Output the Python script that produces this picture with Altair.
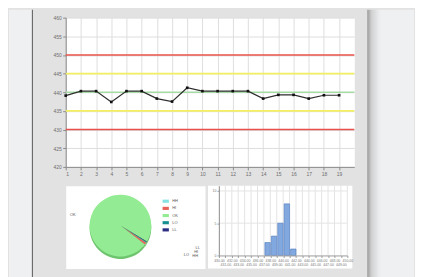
import altair as alt
import pandas as pd

# ---- data ----
samples = list(range(1, 20))
values = [439.1, 440.3, 440.3, 437.4, 440.3, 440.3, 438.3, 437.5, 441.2, 440.3,
          440.3, 440.3, 440.3, 438.3, 439.3, 439.3, 438.3, 439.2, 439.2]
x_ticks = list(range(1, 20))
y_ticks = list(range(420, 461, 5))

limit_names = ["LCL", "LWL", "CL", "UWL", "UCL"]
limit_values = [430, 435, 440, 445, 450]
limit_colors = ["#e8504a", "#f3ef62", "#a5dba5", "#f3ef62", "#e8504a"]

zones = ["HH", "HI", "OK", "LO", "LL"]
zone_counts = [0.05, 0.22, 19, 0.05, 0.05]
zone_colors = ["#86e2e2", "#e8625c", "#93eb93", "#17908f", "#2c2c82"]
zone_draw_order = ["OK", "LL", "LO", "HH", "HI"]

hist_ticks = list(range(430, 451))
hist_y_ticks = [0, 5, 10]
hist_y_grid = [5, 10]

main_df = pd.DataFrame({"sample": samples, "value": values})
limits_df = pd.DataFrame({"name": limit_names, "limit": limit_values})
zones_df = pd.DataFrame({"zone": zones, "count": zone_counts})
one = pd.DataFrame({"k": [0]})

FONT = "Liberation Sans"
axis_style = dict(domainColor="#8a8a8a", tickColor="#8a8a8a", labelColor="#6e6e6e",
                  labelFontSize=5, labelFont=FONT, tickSize=3, labelPadding=1.5,
                  gridColor="#dedede", gridWidth=1, labelOverlap=False)

# ---- page frame decoration (left strip, panel edge, right shadow) ----
frame_left = alt.Chart(one).mark_rect(color="#eef0f2").encode(
    x=alt.value(-57), x2=alt.value(-34), y=alt.value(-8), y2=alt.value(261))
frame_edge = alt.Chart(one).mark_rect(color="#5a5a5a").encode(
    x=alt.value(-34), x2=alt.value(-33), y=alt.value(-8), y2=alt.value(261))
frame_shadow = alt.Chart(one).mark_rect(
    color=alt.Gradient(gradient="linear", x1=0, x2=1, y1=0, y2=0,
                       stops=[alt.GradientStop(offset=0, color="#9c9c9c"),
                              alt.GradientStop(offset=0.35, color="#d2d2d2"),
                              alt.GradientStop(offset=1, color="#eef0f2")])
).encode(x=alt.value(303), x2=alt.value(316), y=alt.value(-8), y2=alt.value(261))
frame_right = alt.Chart(one).mark_rect(color="#eef0f2").encode(
    x=alt.value(316), x2=alt.value(350), y=alt.value(-8), y2=alt.value(261))

# ---- main control chart ----
y_scale = alt.Scale(domain=[420, 460], nice=False, zero=False)
y_axis = alt.Axis(values=y_ticks, title=None, grid=True, **axis_style)
xs = alt.X("sample:Q", scale=alt.Scale(domain=[1, 20], nice=False),
           axis=alt.Axis(values=x_ticks, title=None, grid=True, **axis_style))
ys = alt.Y("value:Q", scale=y_scale, axis=y_axis)

limit_rules = alt.Chart(limits_df).mark_rule(strokeWidth=1.6).encode(
    y=alt.Y("limit:Q", scale=y_scale, axis=y_axis),
    color=alt.Color("name:N", scale=alt.Scale(domain=limit_names, range=limit_colors), legend=None),
)
line = alt.Chart(main_df).mark_line(color="#2e2e2e", strokeWidth=1.2).encode(x=xs, y=ys)
pts = alt.Chart(main_df).mark_point(shape="square", filled=True, size=7, color="#111111",
                                    opacity=1).encode(x=xs, y=ys)
main = alt.layer(frame_left, frame_edge, frame_shadow, frame_right,
                 limit_rules, line, pts).properties(width=290, height=150)

# ---- pie ----
pie_base = alt.Chart(zones_df).transform_calculate(
    ord="indexof(" + str(zone_draw_order) + ", datum.zone)"
)
theta = alt.Theta("count:Q", stack=True, scale=alt.Scale(range=[2.234, 8.517]))
pie_side = pie_base.mark_arc(radius=31, color="#6fc56f").encode(
    theta=theta, order=alt.Order("ord:Q"), x=alt.value(55), y=alt.value(42.5))
pie_top = pie_base.mark_arc(radius=31).encode(
    theta=theta, order=alt.Order("ord:Q"), x=alt.value(55), y=alt.value(40),
    color=alt.Color("zone:N", scale=alt.Scale(domain=zones, range=zone_colors),
                    legend=alt.Legend(title=None, orient="none", legendX=97, legendY=12,
                                      symbolType="M-1,-0.5H1V0.5H-1Z", symbolSize=40,
                                      labelFontSize=4, labelFont=FONT, labelColor="#555555",
                                      rowPadding=1.2, labelOffset=3, symbolStrokeWidth=0)),
)
pie_layers = [pie_side, pie_top]
label_offsets = {"OK": (-15, 12, 40), "LL": (47, 3.5, 36), "HI": (47, 5.5, 36),
                 "HH": (45, 10.5, 36), "LO": (36, 10, 36)}
for z, (dx, dy, r) in label_offsets.items():
    pie_layers.append(
        pie_base.mark_text(radius=r, dx=dx, dy=dy, fontSize=4, font=FONT, color="#555555").encode(
            theta=theta, order=alt.Order("ord:Q"), x=alt.value(55), y=alt.value(40),
            text=alt.condition(alt.datum.zone == z, "zone:N", alt.value("")))
    )
pie = alt.layer(*pie_layers).properties(width=140, height=83)

# ---- histogram ----
hist_axis = dict(domainColor="#9a9a9a", tickColor="#9a9a9a", labelColor="#777777",
                 labelFontSize=3.5, labelFont=FONT, tickSize=2, labelPadding=1,
                 grid=False, zindex=1, title=None, labelOverlap=False)
hx_scale = alt.Scale(domain=[430, 450], nice=False, zero=False)
hy_scale = alt.Scale(domain=[0, 10.8], nice=False)
hx_axis = alt.Axis(values=hist_ticks, labelLineHeight=4, labelFlush=False,
                   labelExpr="datum.value % 2 == 0 ? format(datum.value, '.2f') : ['', format(datum.value, '.2f')]",
                   **hist_axis)
hy_axis = alt.Axis(values=hist_y_ticks, **hist_axis)

hist_bg = alt.Chart(one).mark_rect(color="white").encode(
    x=alt.value(-11), x2=alt.value(134), y=alt.value(0), y2=alt.value(83))
hist_vgrid = alt.Chart(pd.DataFrame({"g": hist_ticks})).mark_rule(
    color="#e4e4e4", strokeWidth=1).encode(
    x=alt.X("g:Q", scale=hx_scale, axis=hx_axis))
hist_hgrid = alt.Chart(pd.DataFrame({"h": hist_y_grid})).mark_rule(
    color="#e4e4e4", strokeWidth=1).encode(
    y=alt.Y("h:Q", scale=hy_scale, axis=hy_axis))
hist_bars = alt.Chart(main_df).mark_bar(color="#82a9df", stroke="#4c78bd",
                                        strokeWidth=0.6, binSpacing=1).encode(
    x=alt.X("value:Q", bin=alt.Bin(extent=[430, 450], step=1), scale=hx_scale, axis=hx_axis),
    y=alt.Y("count():Q", scale=hy_scale, axis=hy_axis),
)
hist = alt.layer(hist_bg, hist_vgrid, hist_hgrid, hist_bars).properties(width=129, height=70)

bottom = alt.hconcat(pie, hist, spacing=14, bounds="flush").resolve_scale(color="independent")
chart = alt.vconcat(main, bottom, spacing=19, bounds="flush").resolve_scale(
    color="independent"
).properties(
    background="#e2e2e2",
    padding={"left": 0, "top": 0, "right": 0, "bottom": 0},
).configure_view(fill="white", stroke="transparent")

chart.save("out.html", embed_options={"renderer": "svg", "actions": False})
